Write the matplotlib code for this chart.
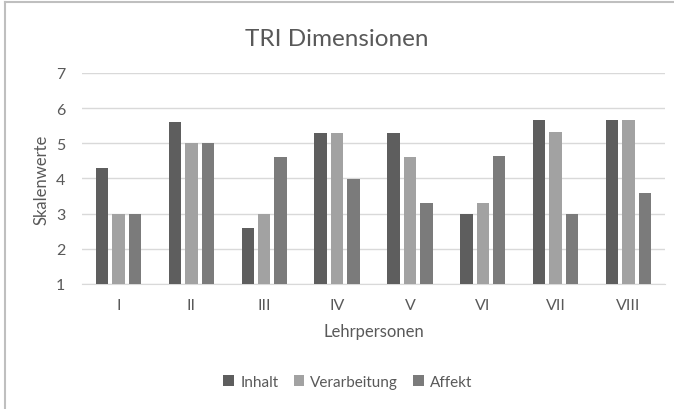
import matplotlib
matplotlib.use("Agg")
import matplotlib.pyplot as plt
import numpy as np
from matplotlib.lines import Line2D

categories = ["I", "II", "III", "IV", "V", "VI", "VII", "VIII"]
inhalt = [4.3, 5.6, 2.6, 5.3, 5.3, 3.0, 5.67, 5.67]
verarbeitung = [3.0, 5.0, 3.0, 5.3, 4.6, 3.3, 5.33, 5.67]
affekt = [3.0, 5.0, 4.6, 4.0, 3.3, 4.65, 3.0, 3.6]
series_names = ["Inhalt", "Verarbeitung", "Affekt"]
colors = ["#5e5e5e", "#a2a2a2", "#7b7b7b"]

plt.rcParams['font.family'] = ['Lato', 'DejaVu Sans']
txt = "#595959"

fig = plt.figure(figsize=(6.74, 4.10), dpi=100)
ax = fig.add_axes([82/674, 1-285/410, (665-82)/674, (285-74)/410])

x = np.arange(len(categories))
w = 0.17
off = 0.225
base = 1
for i, (vals, name, c) in enumerate(zip([inhalt, verarbeitung, affekt], series_names, colors)):
    v = np.array(vals) - base
    ax.bar(x + (i-1)*off, v, w, bottom=base, color=c, label=name, zorder=3)

ax.set_xlim(-0.5, len(categories)-0.5)
ax.set_ylim(1, 7)
ax.set_yticks(range(1, 8))
ax.set_xticks(x)
ax.set_xticklabels(categories)
ax.yaxis.grid(True, color="#d9d9d9", lw=1, zorder=0)
for s in ["left", "right", "top"]:
    ax.spines[s].set_visible(False)
ax.spines["bottom"].set_color("#d9d9d9")
ax.tick_params(axis="both", length=0, colors=txt, labelsize=11.5)
ax.tick_params(axis="y", pad=12)
ax.tick_params(axis="x", pad=10)
ax.set_xlabel("Lehrpersonen", color=txt, fontsize=12, labelpad=8)
ax.set_ylabel("Skalenwerte", color=txt, fontsize=12, labelpad=5)

fig.text(0.5, 1-40/410, "TRI Dimensionen", ha="center", va="center", fontsize=17.5, color=txt)

leg = fig.legend(loc="center", bbox_to_anchor=(348/674, 1-383/410), ncol=3, frameon=False,
                 fontsize=11, handlelength=0.7, handleheight=0.7, handletextpad=0.4,
                 columnspacing=1.0)
for t in leg.get_texts():
    t.set_color(txt)

fig.add_artist(Line2D([5/674, 5/674], [0, 1-3/410], transform=fig.transFigure, color="#bfbfbf", lw=1.5))
fig.add_artist(Line2D([5/674, 1], [1-3/410, 1-3/410], transform=fig.transFigure, color="#bfbfbf", lw=1.5))

fig.savefig("out.png", dpi=100)
